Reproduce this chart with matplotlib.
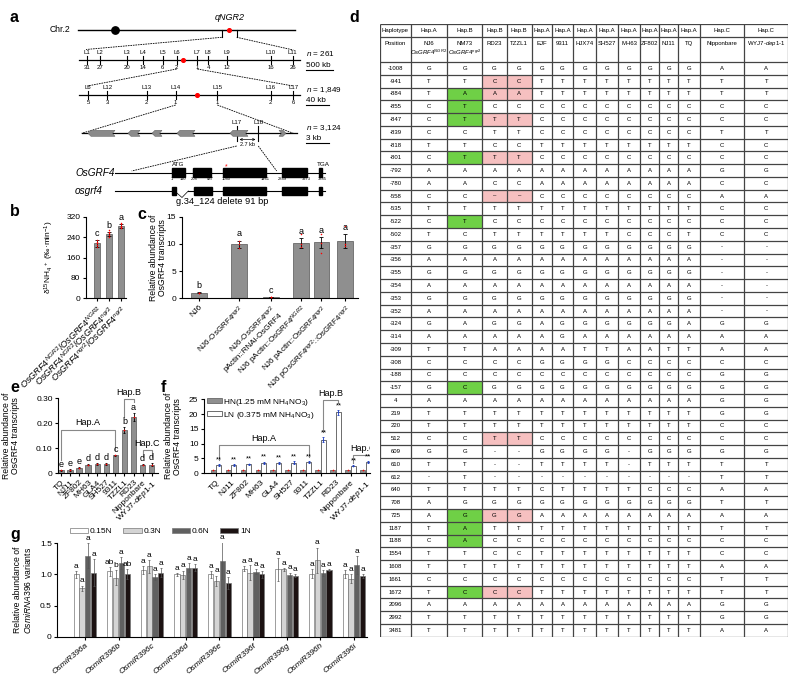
import numpy as np
import matplotlib.pyplot as plt
from matplotlib.patches import Rectangle, Polygon

plt.rcParams['font.family'] = ['Liberation Sans', 'DejaVu Sans']
plt.rcParams['mathtext.fontset'] = 'custom'
plt.rcParams['mathtext.rm'] = 'Liberation Sans'
plt.rcParams['mathtext.it'] = 'Liberation Sans:italic'
plt.rcParams['mathtext.bf'] = 'Liberation Sans:bold'
plt.rcParams['axes.linewidth'] = 0.8

# ---------------- data ----------------
# a: fine-mapping schematic (positions along each map in panel units)
map1_names = ['L1', 'L2', 'L3', 'L4', 'L5', 'L6', 'L7', 'L8', 'L9', 'L10', 'L11']
map1_x = [87.3, 100, 126.7, 142.7, 162.7, 176.7, 197.3, 208.3, 227.3, 270.7, 292.7]
map1_rec = [31, 27, 20, 14, 6, 2, 1, 4, 12, 16, 26]
map2_names = ['L6', 'L12', 'L13', 'L14', 'L15', 'L16', 'L17']
map2_x = [88.3, 107.3, 146.7, 175.7, 217.3, 270.7, 293.3]
map2_rec = [5, 3, 2, 1, 1, 2, 6]
genes = [(88, 115), (128, 140), (152, 162), (177, 195), (230, 248), (279, 286)]
grf4_exons = [(172.3, 185), (193.3, 210.7), (223.3, 265.7), (282, 306.7), (319, 322.3)]
grf4_nums = ['1', '110', '208', '437', '1040', '1461', '2849', '3273', '3385']
grf4_num_x = [172.3, 182.7, 194.3, 210, 226.7, 265.7, 282.7, 306, 322.7]
osgrf4_exons = [(171.7, 175.7), (194, 211.7), (223.3, 265.7), (282, 306.7), (319, 322.3)]

# b
b_labels = [r'$OsGRF4^{NGR2}/OsGRF4^{NGR2}$', r'$OsGRF4^{NGR2}/OsGRF4^{ngr2}$',
            r'$OsGRF4^{ngr2}/OsGRF4^{ngr2}$']
b_vals = [215, 252, 283]
b_err = [12, 9, 7]
b_letters = ['c', 'b', 'a']
b_pts = [[200, 208, 215, 222, 228], [242, 248, 255, 260, 266], [275, 280, 285, 290, 297]]

# c
c_labels = ['NJ6', 'NJ6-OsGRF4$^{ngr2}$', 'NJ6-OsGRF4$^{ngr2}$\npActin::RNAi-OsGRF4',
            'NJ6 pActin::OsGRF4$^{NGR2}$', 'NJ6 pActin::OsGRF4$^{ngr2}$',
            'NJ6 pOsGRF4$^{ngr2}$::OsGRF4$^{ngr2}$']
c_pos = [0, 1.25, 2.25, 3.2, 3.85, 4.6]
c_vals = [1.0, 9.9, 0.2, 10.1, 10.3, 10.5]
c_err = [0.1, 0.7, 0.05, 0.9, 1.0, 1.3]
c_letters = ['b', 'a', 'c', 'a', 'a', 'a']
c_pts = [[0.95, 1.0, 1.05], [9.2, 10.0, 10.6], [0.15, 0.2, 0.25],
         [9.5, 10.0, 11.8], [8.4, 10.2, 11.8], [9.6, 10.0, 13.2]]

# e / f
cultivars = ['TQ', 'NJ11', 'ZF802', 'MH63', 'GLA4', 'SH527', '9311', 'TZZL1', 'RD23',
             'Nipponbare', 'WYJ7-$dep1$-$1$']
e_vals = [0.012, 0.015, 0.022, 0.035, 0.036, 0.038, 0.072, 0.175, 0.225, 0.035, 0.035]
e_err = [0.002, 0.004, 0.002, 0.002, 0.004, 0.003, 0.003, 0.012, 0.015, 0.003, 0.005]
e_letters = ['e', 'e', 'e', 'd', 'd', 'd', 'c', 'b', 'a', 'd', 'd']
f_hn = [1.0, 1.0, 1.1, 1.0, 1.0, 1.0, 1.0, 1.0, 1.0, 1.0, 1.1]
f_ln = [2.9, 2.8, 3.1, 3.5, 3.4, 3.6, 3.8, 11.3, 20.6, 2.5, 3.8]
f_ln_err = [0.3, 0.3, 0.2, 0.4, 0.4, 0.4, 0.3, 0.8, 0.8, 0.2, 0.4]

# g
g_groups = ['OsmiR396a', 'OsmiR396b', 'OsmiR396c', 'OsmiR396d', 'OsmiR396e',
            'OsmiR396f', 'OsmiR396g', 'OsmiR396h', 'OsmiR396i']
g_levels = ['0.15N', '0.3N', '0.6N', '1N']
g_vals = [[1.00, 0.78, 1.30, 1.03], [1.05, 0.95, 1.18, 1.00], [1.07, 1.13, 0.96, 1.03],
          [1.00, 0.99, 1.11, 1.11], [1.00, 0.90, 1.22, 0.86], [1.09, 1.03, 1.04, 1.00],
          [1.08, 1.08, 0.99, 0.98], [1.01, 1.23, 1.02, 1.07], [1.01, 0.93, 1.15, 0.98]]
g_err = [[0.05, 0.04, 0.20, 0.22], [0.07, 0.12, 0.10, 0.08], [0.06, 0.10, 0.05, 0.07],
         [0.02, 0.07, 0.07, 0.05], [0.05, 0.08, 0.30, 0.10], [0.04, 0.12, 0.04, 0.05],
         [0.18, 0.02, 0.04, 0.02], [0.07, 0.20, 0.05, 0.02], [0.06, 0.07, 0.15, 0.03]]
g_letters = [['a', 'a', 'a', 'a'], ['ab', 'b', 'a', 'ab']] + [['a'] * 4] * 7

# d: haplotype table
d_haps = ['Haplotype', 'Hap.A', 'Hap.B', 'Hap.B', 'Hap.B', 'Hap.A', 'Hap.A', 'Hap.A',
          'Hap.A', 'Hap.A', 'Hap.A', 'Hap.A', 'Hap.A', 'Hap.C', 'Hap.C']
d_lines = ['Position', 'NJ6', 'NM73', 'RD23', 'TZZL1', 'EJF', '9311', 'HJX74', 'SH527',
           'MH63', 'ZF802', 'NJ11', 'TQ', 'Nipponbare', 'WYJ7-$dep1$-$1$']
d_pos = [-1008, -941, -884, -855, -847, -839, -818, -801, -792, -780, -558, -535, -522,
         -502, -357, -356, -355, -354, -353, -352, -324, -314, -309, -308, -188, -157,
         4, 219, 220, 512, 609, 610, 612, 640, 708, 725, 1187, 1188, 1554, 1608, 1661,
         1672, 2096, 2992, 3481]
d_alleles = ['GGGGGGGGGGGGAA', 'TTCCTTTTTTTTTT', 'TAAATTTTTTTTTT', 'CTCCCCCCCCCCCC',
             'CTTTCCCCCCCCCC', 'CCTTCCCCCCCCTT', 'TTCCTTTTTTTTCC', 'CTTTCCCCCCCCCC',
             'AAAAAAAAAAAAGG', 'AACCAAAAAAAACC', 'CC––CCCCCCCCAA', 'TTTTTTTTTTTTCC',
             'CTCCCCCCCCCCCC', 'TCTTTTTTCCCTCC', 'GGGGGGGGGGGG--', 'AAAAAAAAAAAA--',
             'GGGGGGGGGGGG--', 'AAAAAAAAAAAA--', 'GGGGGGGGGGGG--', 'AAAAAAAAAAAA--',
             'GAGGAGGGGGGAGG', 'AAAAAGAAAAAAAA', 'TTAAAATTAATTAA', 'CCCCGGGGCCCCCC',
             'CCCCCCCCCCCCGG', 'GCGGGGGGGGGGGG', 'AAAAAAAAAAAAGG', 'TTTTTTTTTTTTGG',
             'TTTTTTTTTTTTCC', 'CCTTCCCCCCCCCC', 'GG--GGGG-GGGGG', 'TT--TTTT-TTTTT',
             '-T----------TT', 'TTTTCTTTTCCCAA', 'AGGGGGGGGGGGTT', 'AGGGAAAAAAAAAA',
             'TATTTTTTTTTTTT', 'CACCCCCCCCCCCC', 'TTCCTTTTTTTTCC', 'TTTTTTTTTTTTAA',
             'CCCCCCCCCCCCTT', 'TCCCTTTTTTTTTT', 'AAAAAAAAAAAAGG', 'TTTTTTTTTTTTGG',
             'TTTTTTTTTTTTAA']
d_green = [-884, -855, -847, -801, -522, -157, 725, 1187, 1188, 1672]
d_pink = [-941, -884, -847, -801, -558, 512, 725, 1672]

# ---------------- figure ----------------
W, H = 800, 686
fig = plt.figure(figsize=(W / 100, H / 100), dpi=100)
bar_gray = '#8f8f8f'


def px_axes(x0, y0, x1, y1):
    return fig.add_axes([x0 / W, 1 - y1 / H, (x1 - x0) / W, (y1 - y0) / H])


def style(ax):
    for s in ['top', 'right']:
        ax.spines[s].set_visible(False)
    ax.tick_params(labelsize=6, width=0.8, length=2.5, pad=1.5)


def letter(x, y, s):
    fig.text(x / W, 1 - y / H, s, fontsize=11.5, fontweight='bold', va='center', ha='left')


for s, x, y in [('a', 10, 18), ('d', 349, 17), ('b', 10, 212), ('c', 137, 215),
                ('e', 10, 387), ('f', 161, 388), ('g', 10, 535)]:
    letter(x, y, s)

# ---- a ----
axa = px_axes(0, 0, 350, 210)
axa.set_xlim(0, 350)
axa.set_ylim(210, 0)
axa.axis('off')
dash = dict(color='k', lw=0.6, ls=(0, (2, 1)))
axa.plot([77.7, 295], [30, 30], color='k', lw=1)
axa.scatter([115], [30], s=28, color='k', zorder=3)
axa.plot([221.7, 221.7], [30, 37.3], color='k', lw=0.8)
axa.plot([236.7, 236.7], [30, 37.3], color='k', lw=0.8)
axa.scatter([228.7], [30], s=7, color='red', zorder=3)
axa.text(230, 17, 'qNGR2', style='italic', fontsize=6.5, ha='center', va='center')
axa.text(70, 30, 'Chr.2', ha='right', va='center', fontsize=6.2)
axa.plot([221.7, 86], [37.3, 49.5], **dash)
axa.plot([236.7, 293.3], [37.3, 50], **dash)

for y0, xs, names, recs, red_x in [(60, map1_x, map1_names, map1_rec, 182.7),
                                   (95, map2_x, map2_names, map2_rec, 196.7)]:
    axa.plot([79, 300], [y0, y0], color='k', lw=0.9)
    for x, nm, r in zip(xs, names, recs):
        axa.plot([x, x], [y0 - 4, y0 + 4], color='k', lw=0.8)
        axa.text(x, y0 - 7.5, nm, fontsize=4.3, ha='center', va='center')
        axa.text(x, y0 + 7.5, str(r), fontsize=4.3, ha='center', va='center')
    axa.scatter([red_x], [y0], s=7, color='red', zorder=3)

axa.plot([176.7, 87.3], [69, 86], **dash)
axa.plot([197.3, 293.3], [69, 86], **dash)
axa.plot([175.7, 81.7], [105, 133.3], **dash)
axa.plot([217.3, 293.3], [105, 133.3], **dash)

for txt, y in [('$n$ = 261', 54), ('$n$ = 1,849', 90), ('$n$ = 3,124', 128)]:
    axa.text(306, y, txt, fontsize=5.9, va='center', ha='left')
for txt, y, ln_end in [('500 kb', 65.7, 333), ('40 kb', 100, 329), ('3 kb', 138.7, 329)]:
    axa.text(306, y, txt, fontsize=5.9, va='center', ha='left')
    axa.plot([306, ln_end], [y + 4.5, y + 4.5], color='k', lw=0.8)

# BAC/gene region
yg = 133.3
axa.plot([81.7, 296.7], [yg, yg], color='k', lw=0.9)
for k, (g0, g1) in enumerate(genes):
    if k < len(genes) - 1:
        pts = [(g0, yg), (g0 + 3, yg - 3), (g1, yg - 3), (g1 - 2.5, yg), (g1, yg + 3), (g0 + 3, yg + 3)]
    else:
        pts = [(g1, yg), (g1 - 3, yg - 3), (g0, yg - 3), (g0 + 2.5, yg), (g0, yg + 3), (g1 - 3, yg + 3)]
    axa.add_patch(Polygon(pts, closed=True, facecolor='#8a8a8a', edgecolor='#666', lw=0.4, zorder=3))
for x, nm in [(236.7, 'L17'), (258.3, 'L18')]:
    axa.plot([x, x], [126, 141], color='k', lw=0.8)
    axa.text(x, 122.5, nm, fontsize=4.3, ha='center', va='center')
axa.annotate('', xy=(236.7, 139.5), xytext=(258.3, 139.5),
             arrowprops=dict(arrowstyle='<->', lw=0.5, mutation_scale=4))
axa.text(247.5, 144, '2.7 kb', fontsize=4, ha='center', va='center')
axa.plot([236.7, 131.7], [146, 171], **dash)
axa.plot([258.3, 276.7], [146, 171], **dash)

# gene structures
y1, y2 = 172.5, 191
axa.plot([115, 325], [y1, y1], color='k', lw=0.8)
for e0, e1 in grf4_exons:
    axa.add_patch(Rectangle((e0, y1 - 4.2), e1 - e0, 8.4, color='k', zorder=3))
for nm, x in zip(grf4_nums, grf4_num_x):
    axa.text(x, 179.3, nm, fontsize=3, ha='center', va='center')
axa.text(178.3, 165, 'ATG', fontsize=4.5, ha='center', va='center')
axa.text(323.3, 165, 'TGA', fontsize=4.5, ha='center', va='center')
axa.text(226, 166.5, '*', fontsize=5, color='red', ha='center', va='center')
axa.text(75, y1, 'OsGRF4', style='italic', fontsize=7.2, ha='left', va='center')
axa.text(75, y2, 'osgrf4', style='italic', fontsize=7.2, ha='left', va='center')
axa.plot([115, 171.7], [y2, y2], color='k', lw=0.8)
axa.plot([175.7, 182, 188.3], [y2 + 1, y2 + 6.5, y2], color='k', lw=0.5)
axa.plot([188.3, 325], [y2, y2], color='k', lw=0.8)
for e0, e1 in osgrf4_exons:
    axa.add_patch(Rectangle((e0, y2 - 3.8), e1 - e0, 7.6, color='k', zorder=3))
axa.text(222.5, 201.5, 'g.34_124 delete 91 bp', fontsize=6.7, ha='center', va='center')

# ---- b ----
axb = px_axes(86, 216.7, 126, 298.3)
style(axb)
xb = np.arange(len(b_vals))
axb.bar(xb, b_vals, width=0.5, color=bar_gray, edgecolor='#555', lw=0.5, yerr=b_err,
        capsize=1.2, error_kw=dict(lw=0.6, capthick=0.6))
for i, pts in enumerate(b_pts):
    axb.scatter([i] * len(pts), pts, s=1.2, color='red', lw=0, zorder=3)
for i, (v, e, t) in enumerate(zip(b_vals, b_err, b_letters)):
    axb.text(i, v + e + 8, t, fontsize=6.5, ha='center', va='bottom')
axb.set_xlim(-0.87, 2.4)
axb.set_ylim(0, 320)
axb.set_yticks([0, 80, 160, 240, 320])
axb.set_xticks(xb)
axb.set_xticklabels(b_labels, rotation=45, ha='right', rotation_mode='anchor', fontsize=6.6)
axb.set_ylabel('δ$^{15}$NH$_4$$^+$ (‰·min$^{-1}$)', fontsize=6)
axb.yaxis.set_label_coords(-0.74, 0.5)

# ---- c ----
axc = px_axes(181.7, 216.7, 358, 298.3)
style(axc)
axc.bar(c_pos, c_vals, width=0.5, color=bar_gray, edgecolor='#555', lw=0.5, yerr=c_err,
        capsize=1.2, error_kw=dict(lw=0.6, capthick=0.6))
for p, pts in zip(c_pos, c_pts):
    axc.scatter([p] * len(pts), pts, s=1.2, color='red', lw=0, zorder=3)
for p, v, e, t in zip(c_pos, c_vals, c_err, c_letters):
    axc.text(p, v + e + 0.4, t, fontsize=6.5, ha='center', va='bottom')
axc.set_xlim(-0.55, 5.0)
axc.set_ylim(0, 15)
axc.set_yticks([0, 5, 10, 15])
axc.set_xticks(c_pos)
axc.set_xticklabels(c_labels, rotation=45, ha='right', rotation_mode='anchor', fontsize=5.8,
                    linespacing=0.95)
axc.set_ylabel('Relative abundance of\nOsGRF4 transcripts', fontsize=6.2, linespacing=1.0)
axc.yaxis.set_label_coords(-0.085, 0.5)

# ---- e ----
axe = px_axes(58.3, 398.3, 158, 473.3)
style(axe)
xe = np.arange(len(e_vals))
axe.bar(xe, e_vals, width=0.6, color=bar_gray, edgecolor='#555', lw=0.5, yerr=e_err,
        capsize=1.0, error_kw=dict(lw=0.6, capthick=0.6))
axe.scatter(xe, e_vals, s=1.5, color='red', lw=0, zorder=3)
for i, (v, e, t) in enumerate(zip(e_vals, e_err, e_letters)):
    axe.text(i, v + e + 0.004, t, fontsize=6.5, ha='center', va='bottom')
axe.set_xlim(-0.3, 10.7)
axe.set_ylim(0, 0.30)
axe.set_yticks([0, 0.10, 0.20, 0.30])
axe.set_yticklabels(['0', '0.10', '0.20', '0.30'])
axe.set_xticks(xe)
axe.set_xticklabels(cultivars, rotation=45, ha='right', rotation_mode='anchor', fontsize=6)
axe.set_ylabel('Relative abundance of\nOsGRF4 transcripts', fontsize=6.2, linespacing=1.0)
axe.yaxis.set_label_coords(-0.38, 0.5)
br = dict(color='#888', lw=0.8, clip_on=False)
axe.plot([0, 0, 6, 6], [0.053, 0.173, 0.173, 0.093], **br)
axe.text(3, 0.185, 'Hap.A', fontsize=6.5, ha='center', va='bottom')
axe.plot([7, 7, 8, 8], [0.226, 0.296, 0.296, 0.285], **br)
axe.text(7.5, 0.305, 'Hap.B', fontsize=6.5, ha='center', va='bottom', clip_on=False)
axe.plot([9, 9, 10, 10], [0.065, 0.093, 0.093, 0.065], **br)
axe.text(9.5, 0.103, 'Hap.C', fontsize=6.5, ha='center', va='bottom')

# ---- f ----
axf = px_axes(204, 399.3, 370, 473.3)
style(axf)
xf = np.arange(len(f_ln))
axf.bar(xf - 0.19, f_hn, width=0.33, color=bar_gray, edgecolor='#555', lw=0.5,
        label='HN(1.25 mM NH$_4$NO$_3$)')
axf.scatter(xf - 0.19, f_hn, s=1.5, color='red', lw=0, zorder=3)
axf.bar(xf + 0.19, f_ln, width=0.33, color='white', edgecolor='#555', lw=0.6, yerr=f_ln_err,
        capsize=0.8, error_kw=dict(lw=0.6, capthick=0.6, ecolor='#2040c0'),
        label='LN (0.375 mM NH$_4$NO$_3$)')
axf.scatter(xf + 0.19, f_ln, s=1.5, color='#2040c0', lw=0, zorder=3)
for i, (v, e) in enumerate(zip(f_ln, f_ln_err)):
    axf.text(i + 0.19, v + e + 0.3, '**', fontsize=5.5, ha='center', va='bottom')
axf.set_xlim(-0.8, 10.3)
axf.set_ylim(0, 25)
axf.set_yticks([0, 5, 10, 15, 20, 25])
axf.set_xticks(xf)
axf.set_xticklabels(cultivars, rotation=45, ha='right', rotation_mode='anchor', fontsize=6)
axf.set_ylabel('Relative abundance of\nOsGRF4 transcripts', fontsize=6.2, linespacing=1.0)
axf.yaxis.set_label_coords(-0.13, 0.5)
axf.legend(loc='upper left', bbox_to_anchor=(0.0, 1.08), frameon=False, fontsize=6,
           handlelength=1.8, handleheight=0.55, handletextpad=0.1, labelspacing=0.25,
           borderaxespad=0)
axf.plot([0.19, 0.19, 6.19, 6.19], [4.5, 9.6, 9.6, 5.5], **br)
axf.text(3.2, 10.2, 'Hap.A', fontsize=6.5, ha='center', va='bottom')
axf.plot([7.19, 7.19, 8.19, 8.19], [14.0, 24.6, 24.6, 23.6], **br)
axf.text(7.65, 25.6, 'Hap.B', fontsize=6.5, ha='center', va='bottom', clip_on=False)
axf.plot([9.19, 9.19, 10.4], [3.4, 6.2, 6.2], color='#888', lw=0.8, clip_on=True)
axf.text(9.0, 6.9, 'Hap.C', fontsize=6.5, ha='left', va='bottom', clip_on=True)

# ---- g ----
axg = px_axes(57.3, 543.3, 366.7, 636.7)
style(axg)
xg = np.arange(len(g_groups))
g_colors = ['white', '#d4d4d4', '#606060', '#1c1212']
g_vals_a = np.array(g_vals)
g_err_a = np.array(g_err)
offs = [-0.26, -0.087, 0.087, 0.26]
for j, lev in enumerate(g_levels):
    axg.bar(xg + offs[j], g_vals_a[:, j], width=0.155, color=g_colors[j], edgecolor='#777',
            lw=0.5, yerr=g_err_a[:, j], capsize=0.8,
            error_kw=dict(lw=0.5, capthick=0.5, ecolor='#555'), label=lev)
    for i in range(len(g_groups)):
        axg.text(i + offs[j], g_vals_a[i, j] + g_err_a[i, j] + 0.02, g_letters[i][j],
                 fontsize=6, ha='center', va='bottom')
axg.set_xlim(-0.82, 8.38)
axg.set_ylim(0, 1.5)
axg.set_yticks([0, 0.5, 1.0, 1.5])
axg.set_yticklabels(['0', '0.5', '1.0', '1.5'])
axg.set_xticks(xg)
axg.set_xticklabels(g_groups, rotation=40, ha='right', rotation_mode='anchor', fontsize=6,
                    style='italic')
axg.set_ylabel('Relative abundance of\n$OsmiRNA396$ variants', fontsize=6.2, linespacing=1.0)
axg.yaxis.set_label_coords(-0.078, 0.5)
axg.legend(loc='center left', bbox_to_anchor=(0.03, 1.125), ncol=4, frameon=False, fontsize=6,
           handlelength=2.2, handleheight=0.55, handletextpad=0.2, columnspacing=1.3,
           borderaxespad=0)

# ---- d: table ----
col_edges = [380, 410.7, 447.3, 482.3, 506.7, 531.7, 551.7, 573.3, 596, 618.3, 640, 659.3,
             678.3, 700, 744.3, 788.3]
top, mid, head_end, bottom = 24, 36.5, 62, 636.7
row_h = (bottom - head_end) / len(d_pos)
axd = px_axes(380, 24, 788.3, 636.7)
axd.set_xlim(380, 788.3)
axd.set_ylim(bottom, top)
axd.axis('off')
cx = [(col_edges[k] + col_edges[k + 1]) / 2 for k in range(len(col_edges) - 1)]
for r, (p, al) in enumerate(zip(d_pos, d_alleles)):
    y0 = head_end + r * row_h
    if p in d_green:
        axd.add_patch(Rectangle((col_edges[2], y0), col_edges[3] - col_edges[2], row_h,
                                color='#6fd046', lw=0))
    if p in d_pink:
        axd.add_patch(Rectangle((col_edges[3], y0), col_edges[5] - col_edges[3], row_h,
                                color='#f6c0c0', lw=0))
    axd.text(cx[0], y0 + row_h / 2, str(p), fontsize=4.3, ha='center', va='center')
    for k, ch in enumerate(al):
        axd.text(cx[k + 1], y0 + row_h / 2, ch, fontsize=4.3, ha='center', va='center')
for k, t in enumerate(d_haps):
    axd.text(cx[k], (top + mid) / 2, t, fontsize=4.3, ha='center', va='center')
for k, t in enumerate(d_lines):
    if k in (1, 2):
        continue
    yy = 43 if k >= 13 else (top + mid) / 2 + 13.5
    axd.text(cx[k], yy, t, fontsize=4.3, ha='center', va='center')
axd.text(cx[1], 43, 'NJ6', fontsize=4.3, ha='center', va='center')
axd.text(cx[1], 52.5, '$OsGRF4^{NGR2}$', fontsize=4.3, ha='center', va='center')
axd.text(cx[2], 43, 'NM73', fontsize=4.3, ha='center', va='center')
axd.text(cx[2], 52.5, '$OsGRF4^{ngr2}$', fontsize=4.3, ha='center', va='center')
ys = [top, mid, head_end] + [head_end + (r + 1) * row_h for r in range(len(d_pos))]
axd.hlines(ys, col_edges[0], col_edges[-1], color='#444', lw=0.9)
axd.vlines(col_edges, top, bottom, color='#444', lw=0.9)

fig.savefig('out.png', dpi=100)
